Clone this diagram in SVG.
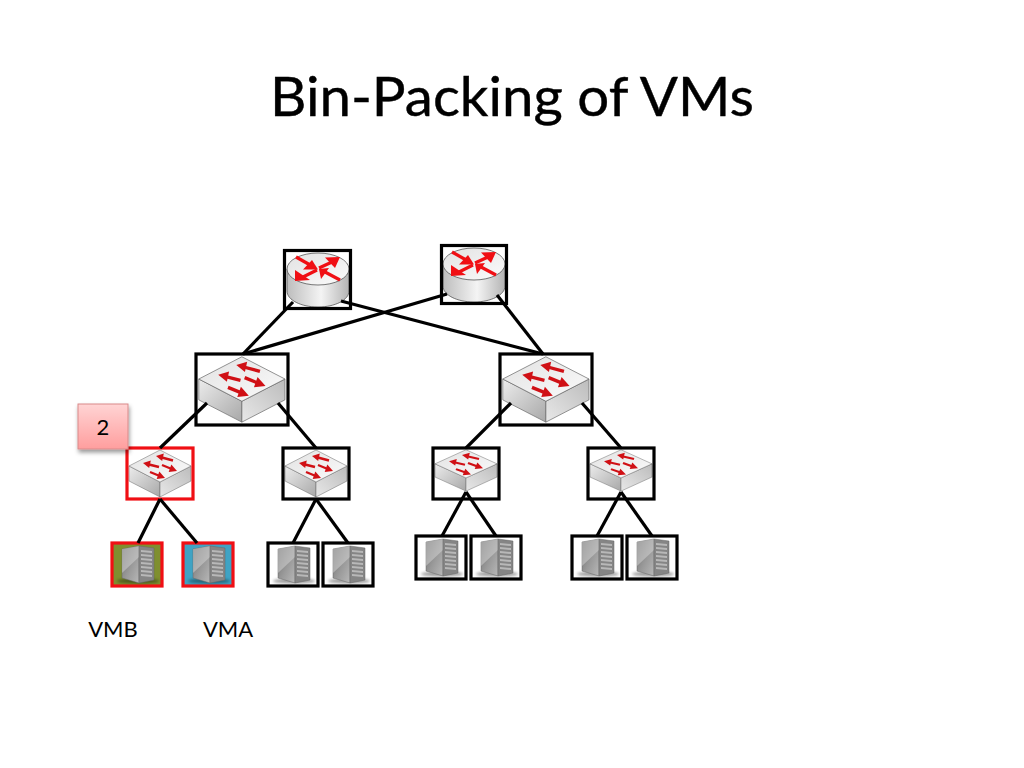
<svg xmlns="http://www.w3.org/2000/svg" width="1024" height="768" viewBox="0 0 1024 768">
<style>
text{font-family:Lato,"Liberation Sans",sans-serif;fill:#000}
.box{fill:none;stroke:#000;stroke-width:3.200}
.red{fill:none;stroke:#f00f14;stroke-width:3.200}
.ln{stroke:#000;stroke-width:3.200;fill:none;stroke-linecap:butt}
.lbl{font-size:22px;text-anchor:middle}
</style>
<defs>
<linearGradient id="cyl" x1="0" x2="1" y1="0" y2="0"><stop offset="0" stop-color="#bdbdbd"/><stop offset=".55" stop-color="#f4f4f4"/><stop offset="1" stop-color="#b4b4b4"/></linearGradient>
<linearGradient id="topg" x1="0" x2="1" y1="0" y2="1"><stop offset="0" stop-color="#e2e2e2"/><stop offset="1" stop-color="#fbfbfb"/></linearGradient>
<linearGradient id="sl" x1="0" x2="1" y1="0" y2="1"><stop offset="0" stop-color="#ececec"/><stop offset="1" stop-color="#a8a8a8"/></linearGradient>
<linearGradient id="sr" x1="0" x2="1" y1="1" y2="0"><stop offset="0" stop-color="#e8e8e8"/><stop offset="1" stop-color="#bcbcbc"/></linearGradient>
<linearGradient id="srvf" x1="0" x2="1" y1="0" y2="1"><stop offset="0" stop-color="#6e6e6e"/><stop offset=".55" stop-color="#9a9a9a"/><stop offset="1" stop-color="#b8b8b8"/></linearGradient>
<linearGradient id="pink" x1="0" x2="0" y1="0" y2="1"><stop offset="0" stop-color="#ffd4d4"/><stop offset="1" stop-color="#ff9e9e"/></linearGradient>
<filter id="sh" x="-20%" y="-20%" width="150%" height="150%"><feDropShadow dx="1" dy="3" stdDeviation="2" flood-color="#000" flood-opacity=".4"/></filter>
<filter id="bl" x="-20%" y="-100%" width="140%" height="300%"><feGaussianBlur stdDeviation="1.500"/></filter>
<symbol id="router" viewBox="0 0 66 60" width="66" height="60" overflow="visible">
<path d="M2 19V41C2 50 16 57 33 57S64 50 64 41V19Z" fill="url(#cyl)" stroke="#555" stroke-width=".8"/>
<ellipse cx="33" cy="19" rx="31" ry="16" fill="url(#topg)" stroke="#555" stroke-width=".8"/>
<g stroke="#f00f14" stroke-width="3.200" fill="none"><path d="M11 7L27 16"/><path d="M34 18L47 12"/><path d="M32 20L18 27"/><path d="M55 30L40 22"/></g>
<g fill="#f00f14"><path d="M33 19.500H18L27 10Z"/><path d="M55 7L40 7.500L50 18Z"/><path d="M10 31V20L25 30Z"/><path d="M34 19L44 18L36 29Z"/></g>
</symbol>
<symbol id="switch" viewBox="0 0 66 51" width="66" height="51" overflow="visible">
<path d="M2 18L33 34V49L2 33Z" fill="url(#sl)" stroke="#666" stroke-width=".5"/>
<path d="M33 34L64 18V33L33 49Z" fill="url(#sr)" stroke="#666" stroke-width=".5"/>
<path d="M2 18L33 2L64 18L33 34Z" fill="url(#topg)" stroke="#666" stroke-width=".5"/>
<g stroke="#d01015" stroke-width="2.400" fill="none"><path d="M33 9L46 12.500"/><path d="M20 16L32 19"/><path d="M46 21.500L35 17"/><path d="M34 28.500L23 24"/></g>
<g fill="#d01015"><path d="M29 8L36.800 5.500L35.200 13Z"/><path d="M16 15L23.800 12.500L22.200 20Z"/><path d="M50 23L44.300 16.500L41.700 24Z"/><path d="M38 30L32.300 23.500L29.700 31Z"/></g>
</symbol>
<symbol id="server" viewBox="0 0 50 43" width="50" height="43" overflow="visible">
<ellipse cx="26" cy="38" rx="21" ry="2.500" fill="#000" opacity=".4" filter="url(#bl)"/>
<path d="M10 6L27 3V40L10 35Z" fill="url(#srvf)" stroke="#666" stroke-width=".5"/>
<path d="M10 6L27 3V14L10 30Z" fill="#d6d6d6" opacity=".5"/>
<path d="M27 3L42 5V37L27 40Z" fill="#858585" stroke="#666" stroke-width=".5"/>
<path d="M29 7l11 1v2l-11-1zM29 11l11 1v2l-11-1zM29 15l11 1v2l-11-1zM29 19l11 1v2l-11-1zM29 23l11 1v2l-11-1zM29 27l11 1v2l-11-1zM29 31l11 1v2l-11-1z" fill="#b8b8b8"/>
</symbol>
</defs>
<rect width="1024" height="768" fill="#fff"/>
<text id="title" x="512" y="115.500" font-size="54" text-anchor="middle" textLength="484" lengthAdjust="spacingAndGlyphs" stroke="#000" stroke-width=".4">Bin-Packing of VMs</text>
<g id="r1"><use href="#router" x="285" y="250"/><rect class="box" x="284.500" y="250.500" width="66" height="58"/></g>
<g id="r2"><use href="#router" x="441" y="245"/><rect class="box" x="441.500" y="245.500" width="65" height="58"/></g>
<g id="l1"><use href="#switch" transform="translate(196 354) scale(1.39)"/><rect class="box" x="196" y="354" width="92" height="71"/></g>
<g id="l2"><use href="#switch" transform="translate(500 354) scale(1.39)"/><rect class="box" x="500" y="354" width="92" height="71"/></g>
<g id="s1"><use href="#switch" x="127" y="448"/><rect class="red" x="127" y="448" width="66" height="51"/></g>
<g id="s2"><use href="#switch" x="283" y="448"/><rect class="box" x="283" y="448" width="66" height="51"/></g>
<g id="s3"><use href="#switch" transform="translate(433 448) scale(1 .88)"/><rect class="box" x="433" y="448" width="66" height="51"/></g>
<g id="s4"><use href="#switch" transform="translate(588 448) scale(1 .88)"/><rect class="box" x="588" y="448" width="66" height="51"/></g>
<g id="h1"><rect x="112" y="543" width="50" height="43" fill="#7f8f2f"/><use href="#server" x="112" y="543"/><rect class="red" x="112" y="543" width="50" height="43"/></g>
<g id="h2"><rect x="183" y="543" width="50" height="43" fill="#3fa3c4"/><use href="#server" x="183" y="543"/><rect class="red" x="183" y="543" width="50" height="43"/></g>
<g id="h3"><use href="#server" x="268" y="543"/><rect class="box" x="268" y="543" width="50" height="43"/></g>
<g id="h4"><use href="#server" x="323" y="543"/><rect class="box" x="323" y="543" width="50" height="43"/></g>
<g id="h5"><use href="#server" x="416" y="536"/><rect class="box" x="416" y="536" width="50" height="43"/></g>
<g id="h6"><use href="#server" x="471" y="536"/><rect class="box" x="471" y="536" width="50" height="43"/></g>
<g id="h7"><use href="#server" x="572" y="536"/><rect class="box" x="572" y="536" width="50" height="43"/></g>
<g id="h8"><use href="#server" x="627" y="536"/><rect class="box" x="627" y="536" width="50" height="43"/></g>
<g id="connectors">
<path class="ln" d="M293 302L243 354"/>
<path class="ln" d="M341 301L543 354"/>
<path class="ln" d="M447 294L243 354"/>
<path class="ln" d="M497 295L543 354"/>
<path class="ln" d="M207 403L160 448"/>
<path class="ln" d="M278 403L316 448"/>
<path class="ln" d="M511 403L466 448"/>
<path class="ln" d="M582 403L621 448"/>
<path class="ln" d="M160 499L138 543"/>
<path class="ln" d="M160 499L197 543"/>
<path class="ln" d="M316 499L293 543"/>
<path class="ln" d="M316 499L348 543"/>
<path class="ln" d="M466 492L442 536"/>
<path class="ln" d="M466 492L496 536"/>
<path class="ln" d="M621 492L597 536"/>
<path class="ln" d="M621 492L652 536"/>
</g>
<g id="badge"><rect x="78" y="404" width="50" height="45" fill="url(#pink)" stroke="#d98a8a" filter="url(#sh)"/><text class="lbl" x="103" y="435">2</text></g>
<text id="vmb" class="lbl" x="113" y="637">VMB</text>
<text id="vma" class="lbl" x="228" y="637">VMA</text>
</svg>
